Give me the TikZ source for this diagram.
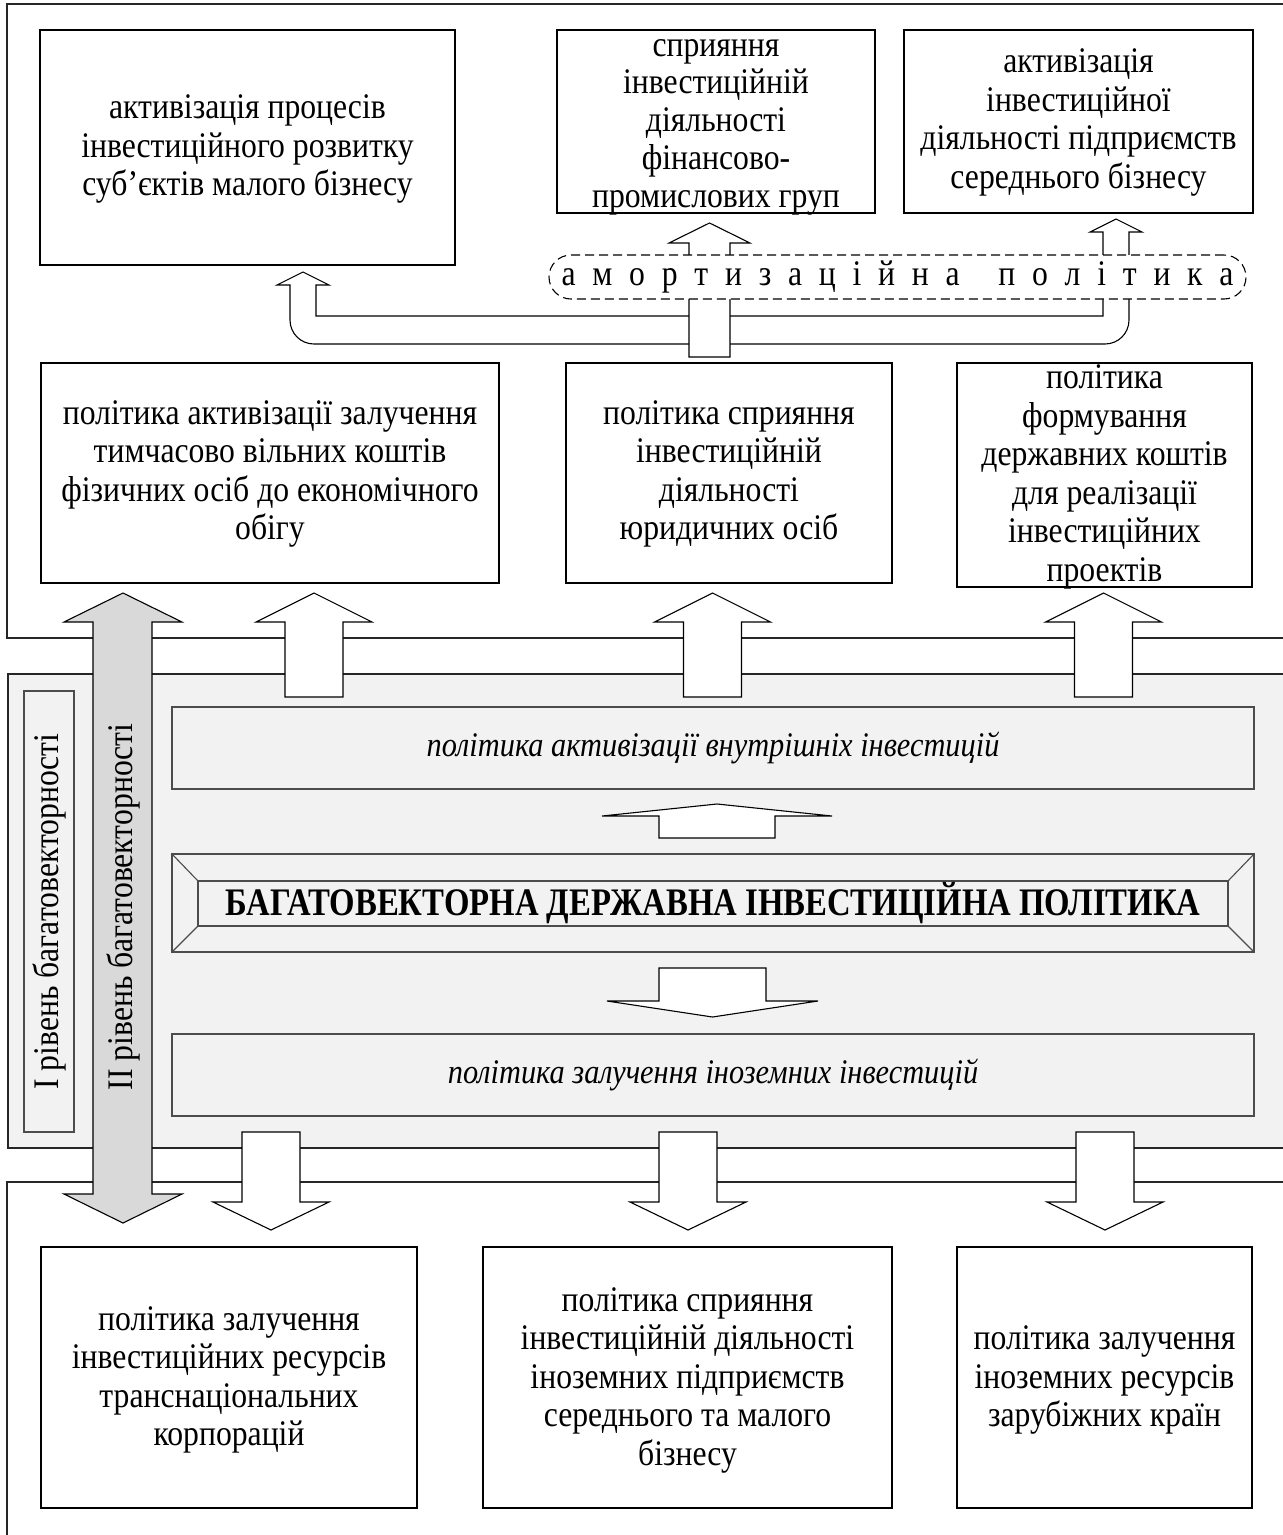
\documentclass[tikz,border=0pt]{standalone}
\usepackage{fontspec}
\setmainfont{Liberation Serif}[FakeStretch=0.88]
\newfontfamily\titlefont{Liberation Serif}[FakeStretch=0.84]
\definecolor{bandgray}{HTML}{F2F2F2}
\definecolor{arrowgray}{HTML}{D9D9D9}
% block arrow: [style]{centre x}{shaft end y}{head base y}{tip y}{half shaft}{half head}
\newcommand{\blockarrow}[7][blk]{%
  \draw[#1] ({#2-#6},#3) -- ({#2-#6},#4) -- ({#2-#7},#4) -- (#2,#5)
    -- ({#2+#7},#4) -- ({#2+#6},#4) -- ({#2+#6},#3) -- cycle;}
\begin{document}
\begin{tikzpicture}[x=1pt,y=-1pt,
  every node/.style={inner sep=0pt,outer sep=0pt},
  frame/.style={draw=black!85,line width=1.2pt},
  box/.style={draw=black,line width=1.1pt,fill=white},
  txt/.style={align=center,font=\fontsize{36}{38.5}\selectfont},
  panel/.style={draw=black!70,line width=1.1pt,fill=bandgray},
  blk/.style={draw=black,line width=1.1pt,fill=white,line join=miter},
  gblk/.style={blk,fill=arrowgray},
]
\useasboundingbox (0,0) rectangle (1283,1535);
\clip (0,0) rectangle (1283,1535);

% three horizontal zones
\draw[frame,fill=white] (7,4) rectangle (1295,638);
\draw[frame,fill=white] (7,1182) rectangle (1295,1545);
\draw[frame,fill=bandgray] (8,674) rectangle (1295,1148);

% central band
\node[panel,rotate=90,minimum width=441,minimum height=50,
      font=\fontsize{36}{38}\selectfont] (lvlone) at (49,911.5) {I рівень багатовекторності};
\node[panel,minimum width=1082,minimum height=82,
      font=\fontsize{34.5}{36}\selectfont\itshape] (inner) at (713,748)
      {політика активізації внутрішніх інвестицій};
\node[panel,minimum width=1082,minimum height=82,
      font=\fontsize{34.5}{36}\selectfont\itshape] (foreign) at (713,1075)
      {політика залучення іноземних інвестицій};
\node[panel,minimum width=1082,minimum height=98] (titleframe) at (713,903) {};
\node[panel,minimum width=1030,minimum height=45,
      font=\titlefont\bfseries\fontsize{39}{40}\selectfont] (title) at (713,903.5)
      {БАГАТОВЕКТОРНА ДЕРЖАВНА ІНВЕСТИЦІЙНА ПОЛІТИКА};
\foreach \c in {north west,north east,south west,south east}
  \draw[draw=black!70,line width=1.1pt] (titleframe.\c) -- (title.\c);

% top row
\node[box,minimum width=415,minimum height=235] (A) at (247.5,147.5) {};
\node[txt] at (247.5,149) {активізація процесів\\інвестиційного розвитку\\суб’єктів малого бізнесу};
\node[box,minimum width=318,minimum height=183] (B) at (716,121.5) {};
\node[txt,font=\fontsize{36}{37.8}\selectfont] at (716,127) {сприяння\\інвестиційній\\діяльності\\фінансово-\\промислових груп};
\node[box,minimum width=349,minimum height=183] (C) at (1078.5,121.5) {};
\node[txt] at (1078.5,122.5) {активізація\\інвестиційної\\діяльності підприємств\\середнього бізнесу};

% second row
\node[box,minimum width=458,minimum height=220] (D) at (270,473) {};
\node[txt] at (270,474) {політика активізації залучення\\тимчасово вільних коштів\\фізичних осіб до економічного\\обігу};
\node[box,minimum width=326,minimum height=220] (E) at (729,473) {};
\node[txt] at (729,474) {політика сприяння\\інвестиційній\\діяльності\\юридичних осіб};
\node[box,minimum width=295,minimum height=224] (F) at (1104.5,475) {};
\node[txt] at (1104.5,477) {політика\\формування\\державних коштів\\для реалізації\\інвестиційних\\проектів};

% bottom row
\node[box,minimum width=376,minimum height=261] (G) at (229,1377.5) {};
\node[txt] at (229,1380) {політика залучення\\інвестиційних ресурсів\\транснаціональних\\корпорацій};
\node[box,minimum width=409,minimum height=261] (H) at (687.5,1377.5) {};
\node[txt] at (687.5,1380) {політика сприяння\\інвестиційній діяльності\\іноземних підприємств\\середнього та малого\\бізнесу};
\node[box,minimum width=295,minimum height=261] (I) at (1104.5,1377.5) {};
\node[txt] at (1104.5,1380) {політика залучення\\іноземних ресурсів\\зарубіжних країн};

% branching arrow of the depreciation policy
\draw[blk] (316,285) -- (316,316) -- (1103,316) -- (1103,232) -- (1090,232)
  -- (1116,219) -- (1142,232) -- (1129,232) -- (1129,320)
  .. controls (1129,333.3) and (1118.3,344) .. (1105,344) -- (314,344)
  .. controls (300.7,344) and (290,333.3) .. (290,320) -- (290,285)
  -- (277,285) -- (303,272) -- (329,285) -- cycle;
\blockarrow{709.5}{357}{243}{223}{20.5}{40.5}
\node[draw=black,line width=1.1pt,dashed,dash pattern=on 9pt off 5pt,
      rounded corners=22,fill=white,minimum width=697,minimum height=44,
      font=\fontsize{36}{38}\selectfont] (amort) at (897.5,277)
  {\makebox[672pt][s]{а\hfill м\hfill о\hfill р\hfill т\hfill и\hfill з\hfill а\hfill ц\hfill і\hfill й\hfill н\hfill а\hspace{\stretch{2.3}}п\hfill о\hfill л\hfill і\hfill т\hfill и\hfill к\hfill а}};

% arrows from the band up to the second row
\blockarrow{314}{697}{622}{593}{29}{58}
\blockarrow{712.5}{697}{622}{593}{29}{58}
\blockarrow{1103.5}{697}{622}{593}{29}{58}

% arrows inside the band
\blockarrow{717}{838}{816}{804}{58}{115}
\blockarrow{712.5}{968}{1001}{1017}{53.5}{105.5}

% arrows from the band down to the bottom row
\blockarrow{271}{1132}{1202}{1230}{29}{58}
\blockarrow{688}{1132}{1202}{1230}{29}{58}
\blockarrow{1105}{1132}{1202}{1230}{29}{58}

% second level double arrow
\draw[gblk] (93,622) -- (64,622) -- (123,593) -- (182,622) -- (152,622)
  -- (152,1194) -- (182,1194) -- (123,1223) -- (64,1194) -- (93,1194) -- cycle;
\node[rotate=90,font=\fontsize{36}{38}\selectfont] (lvltwo) at (123,907)
  {II рівень багатовекторності};
\end{tikzpicture}
\end{document}
